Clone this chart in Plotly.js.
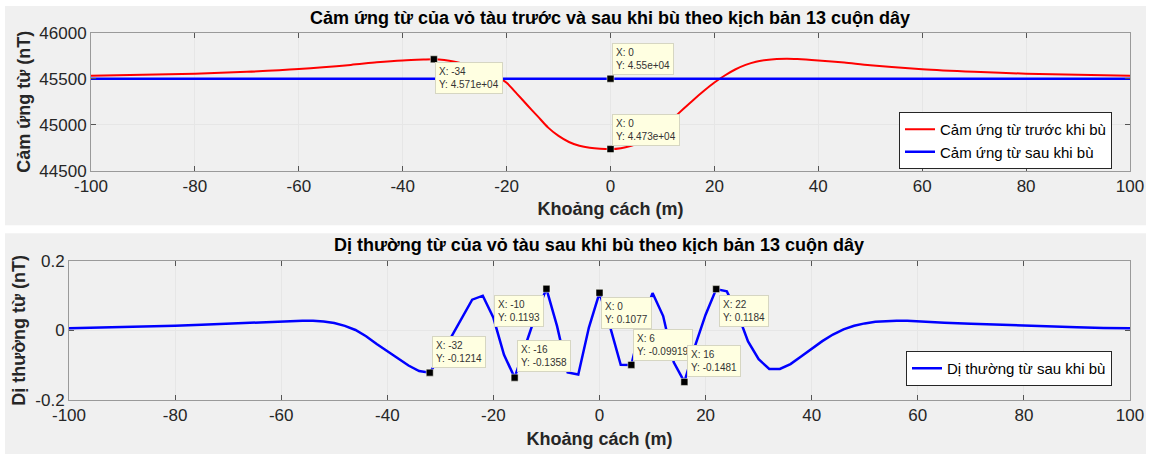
<!DOCTYPE html>
<html>
<head>
<meta charset="utf-8">
<script src="https://cdn.plot.ly/plotly-3.0.1.min.js"></script>
<style>html,body{margin:0;padding:0;background:#fff;}#chart{width:1149px;height:454px;}</style>
</head>
<body>
<div id="chart"></div>
<script>
// ---- Top chart data (Cảm ứng từ, nT) ----
var topX = [-100,-90,-80,-70,-60,-50,-45,-40,-36,-34,-32,-30,-28,-26,-24,-22,-20,-18,-16,-14,-12,-10,-8,-6,-4,-2,0,2,4,6,8,10,12,14,16,18,20,22,24,26,28,30,32,34,36,40,45,50,60,70,80,90,100];
var beforeComp = [45532,45542,45554,45575,45605,45650,45678,45699,45708,45711,45703,45685,45658,45625,45583,45530,45455,45335,45212,45090,44968,44878,44812,44772,44750,44739,44735,44745,44772,44812,44875,44960,45065,45170,45272,45368,45458,45535,45600,45650,45685,45704,45714,45717,45713,45698,45675,45647,45604,45576,45554,45543,45532];
var afterX = [-100,100];
var afterComp = [45500,45500];

// ---- Bottom chart data (Dị thường từ, nT) ----
var botX = [-100,-95,-90,-85,-80,-75,-70,-66,-62,-58,-56,-54,-52,-50,-48,-46,-44,-42,-40,-38,-36,-34,-32,-30,-28,-26,-24,-22,-20,-18,-16,-14,-12,-10,-8,-6,-4,-2,0,2,4,6,8,10,12,14,16,18,20,22,24,26,28,30,32,34,36,38,40,42,44,46,48,50,52,54,56,58,60,65,70,75,80,85,90,95,100];
var anomaly = [0.006,0.0075,0.009,0.011,0.013,0.016,0.019,0.022,0.025,0.027,0.0278,0.0275,0.0255,0.021,0.013,0.001,-0.017,-0.039,-0.059,-0.081,-0.101,-0.117,-0.1214,-0.075,-0.022,0.035,0.088,0.0995,0.036,-0.07,-0.1358,-0.045,0.045,0.1193,0.012,-0.121,-0.127,0.008,0.1077,0.01,-0.099,-0.09919,0.025,0.107,0.041,-0.092,-0.1481,-0.045,0.045,0.1184,0.112,0.05,-0.032,-0.083,-0.111,-0.111,-0.097,-0.075,-0.053,-0.031,-0.012,0.003,0.013,0.02,0.0245,0.027,0.0278,0.0277,0.0258,0.022,0.019,0.016,0.013,0.0105,0.0086,0.007,0.0057];

// ---- Data tips ----
var tipsTopRedX = [-34, 0];
var tipsTopRedText = ["X: -34<br>Y: 4.571e+04", "X: 0<br>Y: 4.473e+04"];
var tipsTopBlueX = [0];
var tipsTopBlueText = ["X: 0<br>Y: 4.55e+04"];
var tipsBotX = [-32, -10, -16, 0, 6, 16, 22];
var tipsBotText = ["X: -32<br>Y: -0.1214","X: -10<br>Y: 0.1193","X: -16<br>Y: -0.1358","X: 0<br>Y: 0.1077","X: 6<br>Y: -0.09919","X: 16<br>Y: -0.1481","X: 22<br>Y: 0.1184"];

// tick labels
var xTicks = [-100,-80,-60,-40,-20,0,20,40,60,80,100];
var xTickText = ["-100","-80","-60","-40","-20","0","20","40","60","80","100"];
var topYTicks = [44500,45000,45500,46000];
var topYTickText = ["44500","45000","45500","46000"];
var botYTicks = [-0.2,0,0.2];
var botYTickText = ["-0.2","0","0.2"];

var W = 1149, H = 454;
function px(x){return x/W;}
function py(y){return (H-y)/H;}

function lookup(xs, ys, x){ return ys[xs.indexOf(x)]; }

var tipTopRedY = tipsTopRedX.map(function(x){return lookup(topX, beforeComp, x);});
var tipTopBlueY = tipsTopBlueX.map(function(){return afterComp[0];});
var tipBotY = tipsBotX.map(function(x){return lookup(botX, anomaly, x);});

var FONT = "Liberation Sans, Arial, Helvetica, sans-serif";
var TXT = "#262626";

var traces = [
  {x: topX, y: beforeComp, xaxis:'x', yaxis:'y', mode:'lines', name:'Cảm ứng từ trước khi bù',
   line:{color:'#ff0000', width:2, shape:'spline', smoothing:0.8}, legend:'legend'},
  {x: afterX, y: afterComp, xaxis:'x', yaxis:'y', mode:'lines', name:'Cảm ứng từ sau khi bù',
   line:{color:'#0000ff', width:2.5}, legend:'legend'},
  {x: botX, y: anomaly, xaxis:'x2', yaxis:'y2', mode:'lines', name:'Dị thường từ sau khi bù',
   line:{color:'#0000ff', width:2.5}, legend:'legend2'},
  {x: tipsTopRedX.concat(tipsTopBlueX), y: tipTopRedY.concat(tipTopBlueY), xaxis:'x', yaxis:'y', mode:'markers',
   showlegend:false, marker:{symbol:'square', size:7, color:'#000', line:{color:'#fffff0', width:0.5}}},
  {x: tipsBotX, y: tipBotY, xaxis:'x2', yaxis:'y2', mode:'markers',
   showlegend:false, marker:{symbol:'square', size:7, color:'#000', line:{color:'#fffff0', width:0.5}}}
];

// tip offsets (pixels)
var offTopRed = [[35,19],[35,-19]];
var offTopBlue = [[32,-20]];
var offBot = [[29,-21],[-27,22],[29,-22],[27,20],[32,-20],[30,-21],[28,22]];

var annotations = [];
function addTip(xref, yref, x, y, text, off){
  annotations.push({xref:xref, yref:yref, x:x, y:y, text:text, showarrow:true, arrowcolor:'rgba(0,0,0,0)',
    arrowwidth:0.1, ax:off[0], ay:off[1], align:'left', bgcolor:'#ffffe1', bordercolor:'#d6d6c2', borderwidth:1,
    borderpad:3, font:{family:FONT, size:10, color:'#333'}});
}
tipsTopRedX.forEach(function(x,i){addTip('x','y',x,tipTopRedY[i],tipsTopRedText[i],offTopRed[i]);});
tipsTopBlueX.forEach(function(x,i){addTip('x','y',x,tipTopBlueY[i],tipsTopBlueText[i],offTopBlue[i]);});
tipsBotX.forEach(function(x,i){addTip('x2','y2',x,tipBotY[i],tipsBotText[i],offBot[i]);});

annotations.push({xref:'paper', yref:'paper', x:px(599), y:py(245), xanchor:'center', yanchor:'middle', showarrow:false,
  text:'<b>Dị thường từ của vỏ tàu sau khi bù theo kịch bản 13 cuộn dây</b>', font:{family:FONT, size:18, color:'#000'}});

function xAxis(domain, anchor){
  return {domain:domain, anchor:anchor, range:[-100,100], tickvals:xTicks, ticktext:xTickText, ticks:'inside', ticklen:5, tickcolor:'#555',
    showline:true, mirror:'ticks', linecolor:'#9a9a9a', linewidth:1, showgrid:true, gridcolor:'#e6e6e6', zeroline:false,
    tickfont:{family:FONT, size:17, color:TXT}, automargin:false,
    title:{text:'<b>Khoảng cách (m)</b>', font:{family:FONT, size:18, color:TXT}, standoff:7}};
}

var layout = {
  width:W, height:H, margin:{l:0,r:0,t:0,b:0}, paper_bgcolor:'#ffffff', plot_bgcolor:'#ffffff',
  title:{text:'<b>Cảm ứng từ của vỏ tàu trước và sau khi bù theo kịch bản 13 cuộn dây</b>', x:px(610), y:py(18),
    xanchor:'center', yanchor:'middle', xref:'paper', yref:'paper', font:{family:FONT, size:18, color:'#000'}},
  xaxis: xAxis([px(91), px(1130)], 'y'),
  yaxis: {domain:[py(170.7), py(32.7)], anchor:'x', range:[44500,46000], tickvals:topYTicks, ticktext:topYTickText, ticks:'inside', ticklen:5,
    tickcolor:'#555', showline:true, mirror:'ticks', linecolor:'#9a9a9a', linewidth:1, showgrid:true, gridcolor:'#e6e6e6',
    zeroline:false, tickfont:{family:FONT, size:17, color:TXT}, automargin:false,
    title:{text:'<b>Cảm ứng từ (nT)</b>', font:{family:FONT, size:18, color:TXT}, standoff:4}},
  xaxis2: xAxis([px(69), px(1130)], 'y2'),
  yaxis2: {domain:[py(400), py(260.7)], anchor:'x2', range:[-0.2,0.2], tickvals:botYTicks, ticktext:botYTickText,
    ticks:'inside', ticklen:5, tickcolor:'#555', showline:true, mirror:'ticks', linecolor:'#9a9a9a', linewidth:1,
    showgrid:true, gridcolor:'#e6e6e6', zeroline:false, tickfont:{family:FONT, size:17, color:TXT}, automargin:false,
    title:{text:'<b>Dị thường từ (nT)</b>', font:{family:FONT, size:18, color:TXT}, standoff:4}},
  legend: {x:px(1112), y:py(112), xanchor:'right', yanchor:'top', bgcolor:'#ffffff', bordercolor:'#262626', borderwidth:1,
    font:{family:FONT, size:15, color:'#000'}, tracegroupgap:0, itemwidth:30},
  legend2: {x:px(1112), y:py(351), xanchor:'right', yanchor:'top', bgcolor:'#ffffff', bordercolor:'#262626', borderwidth:1,
    font:{family:FONT, size:15, color:'#000'}, itemwidth:30},
  showlegend:true,
  shapes:[
    {type:'rect', xref:'paper', yref:'paper', x0:px(5), x1:px(1146), y0:py(225.3), y1:py(6), fillcolor:'#f0f0f0', line:{width:0}, layer:'below'},
    {type:'rect', xref:'paper', yref:'paper', x0:px(5), x1:px(1146), y0:py(454), y1:py(233.3), fillcolor:'#f0f0f0', line:{width:0}, layer:'below'}
  ],
  annotations: annotations
};

Plotly.newPlot('chart', traces, layout, {displayModeBar:false, staticPlot:true});
</script>
</body>
</html>
